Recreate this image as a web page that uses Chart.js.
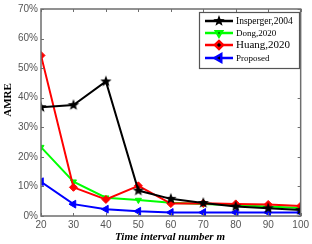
<!DOCTYPE html>
<html><head><meta charset="utf-8">
<script src="https://cdn.jsdelivr.net/npm/chart.js@4/dist/chart.umd.min.js"></script>
<style>html,body{margin:0;padding:0;background:#fff;}#wrap{width:312px;height:244px;}</style>
</head><body><div id="wrap"><canvas id="c" width="312" height="244"></canvas></div>
<script>
const xValues = [20, 30, 40, 50, 60, 70, 80, 90, 100];
const insperger = [36.8, 37.5, 45.5, 8.6, 5.8, 4.4, 3.2, 2.6, 2.0];
const dong = [23.3, 11.6, 6.2, 5.4, 4.5, 4.1, 3.6, 3.2, 2.7];
const huang = [54.3, 9.7, 5.6, 10.2, 4.2, 4.3, 4.1, 3.9, 3.4];
const proposed = [11.6, 4.0, 2.3, 1.6, 1.2, 1.2, 1.2, 1.2, 1.2];
const seriesNames = ['Insperger,2004', 'Dong,2020', 'Huang,2020', 'Proposed'];
const yTicks = [0, 10, 20, 30, 40, 50, 60, 70];
const xTitle = 'Time interval number m';
const yTitle = 'AMRE';

function starImg(r, color) {
  const c = document.createElement('canvas');
  c.width = c.height = r * 2 + 2;
  const g = c.getContext('2d');
  g.fillStyle = color;
  g.beginPath();
  for (let i = 0; i < 10; i++) {
    const rad = i % 2 === 0 ? r : r * 0.42;
    const a = -Math.PI / 2 + i * Math.PI / 5;
    const px = r + 1 + rad * Math.cos(a), py = r + 1 + rad * Math.sin(a);
    i ? g.lineTo(px, py) : g.moveTo(px, py);
  }
  g.closePath(); g.fill();
  return c;
}
const star = starImg(6, '#000');

function pts(arr) { return arr.map((v, i) => ({ x: xValues[i], y: v })); }

const styles = [
  { color: '#000000', pointStyle: star, rot: 0, r: 5 },
  { color: '#00ff00', pointStyle: 'triangle', rot: 180, r: 3.5 },
  { color: '#ff0000', pointStyle: 'rectRot', rot: 0, r: 4 },
  { color: '#0000ff', pointStyle: 'triangle', rot: -90, r: 4.5 }
];
const allData = [insperger, dong, huang, proposed];
const datasets = allData.map((d, i) => ({
  label: seriesNames[i], data: pts(d),
  borderColor: styles[i].color, backgroundColor: styles[i].color,
  borderWidth: 2, pointStyle: styles[i].pointStyle, pointRotation: styles[i].rot,
  pointRadius: styles[i].r, pointBorderWidth: 1, tension: 0
}));
datasets[0].order = 1; datasets[1].order = 3; datasets[2].order = 2; datasets[3].order = 4;

const AX = '#6e6e6e';
const deco = {
  id: 'deco',
  afterDatasetsDraw(chart) {
    const { ctx, chartArea: a, scales } = chart;
    ctx.save();
    ctx.strokeStyle = AX; ctx.lineWidth = 1.5;
    ctx.strokeRect(a.left, a.top, a.right - a.left, a.bottom - a.top);
    ctx.lineWidth = 1;
    ctx.beginPath();
    xValues.forEach(v => {
      const x = Math.round(scales.x.getPixelForValue(v)) + 0.5;
      ctx.moveTo(x, a.bottom); ctx.lineTo(x, a.bottom - 3);
      ctx.moveTo(x, a.top); ctx.lineTo(x, a.top + 3);
    });
    yTicks.forEach(v => {
      const y = Math.round(scales.y.getPixelForValue(v)) + 0.5;
      ctx.moveTo(a.left, y); ctx.lineTo(a.left + 3, y);
      ctx.moveTo(a.right, y); ctx.lineTo(a.right - 3, y);
    });
    ctx.stroke();
    // legend
    const lx = 199, ly = 12, lw = 100, lh = 56;
    ctx.fillStyle = '#fff'; ctx.fillRect(lx, ly, lw, lh);
    ctx.strokeStyle = '#555'; ctx.lineWidth = 1.2; ctx.strokeRect(lx + 0.5, ly + 0.5, lw, lh);
    const rowY = [21, 33, 45, 58];
    const fsz = [9.5, 9, 11, 9];
    chart.data.datasets.forEach((ds, i) => {
      const y = rowY[i];
      ctx.strokeStyle = ds.borderColor; ctx.lineWidth = 2.5;
      ctx.beginPath(); ctx.moveTo(205, y); ctx.lineTo(233, y); ctx.stroke();
      Chart.helpers.drawPoint(ctx, { pointStyle: ds.pointStyle, rotation: ds.pointRotation, radius: ds.pointRadius, borderWidth: 1 }, 219, y);
      ctx.fillStyle = '#000';
      ctx.font = fsz[i] + 'px "Liberation Serif", "Times New Roman", serif';
      ctx.textBaseline = 'middle'; ctx.textAlign = 'left';
      ctx.fillText(ds.label, 236, y + 0.5);
    });
    // titles
    ctx.fillStyle = '#000';
    ctx.font = 'italic bold 11px "Liberation Serif", "Times New Roman", serif';
    ctx.textAlign = 'center'; ctx.textBaseline = 'middle';
    ctx.fillText(xTitle, 170, 237);
    ctx.translate(8, 100); ctx.rotate(-Math.PI / 2);
    ctx.font = 'bold 11px "Liberation Serif", "Times New Roman", serif';
    ctx.fillText(yTitle, 0, 0);
    ctx.restore();
  }
};
Chart.defaults.font.family = 'Arial, "Liberation Sans", sans-serif';

new Chart(document.getElementById('c'), {
  type: 'line',
  data: { datasets },
  options: {
    responsive: false, animation: false, devicePixelRatio: 1,
    layout: { padding: { left: 0, right: 11, top: 7, bottom: 0 } },
    plugins: { legend: { display: false }, tooltip: { enabled: false } },
    scales: {
      x: {
        type: 'linear', min: 20, max: 100,
        afterBuildTicks: s => { s.ticks = xValues.map(v => ({ value: v })); },
        grid: { display: false, drawTicks: false }, border: { display: false },
        ticks: { color: '#555', font: { size: 10 }, padding: 3, maxRotation: 0, autoSkip: false },
        afterFit: s => { s.height = 28; }
      },
      y: {
        min: 0, max: 70,
        afterBuildTicks: s => { s.ticks = yTicks.map(v => ({ value: v })); },
        grid: { display: false, drawTicks: false }, border: { display: false },
        ticks: { color: '#555', font: { size: 10 }, padding: 3, callback: v => v + '%' },
        afterFit: s => { s.width = 41; }
      }
    }
  },
  plugins: [deco]
});
</script></body></html>
